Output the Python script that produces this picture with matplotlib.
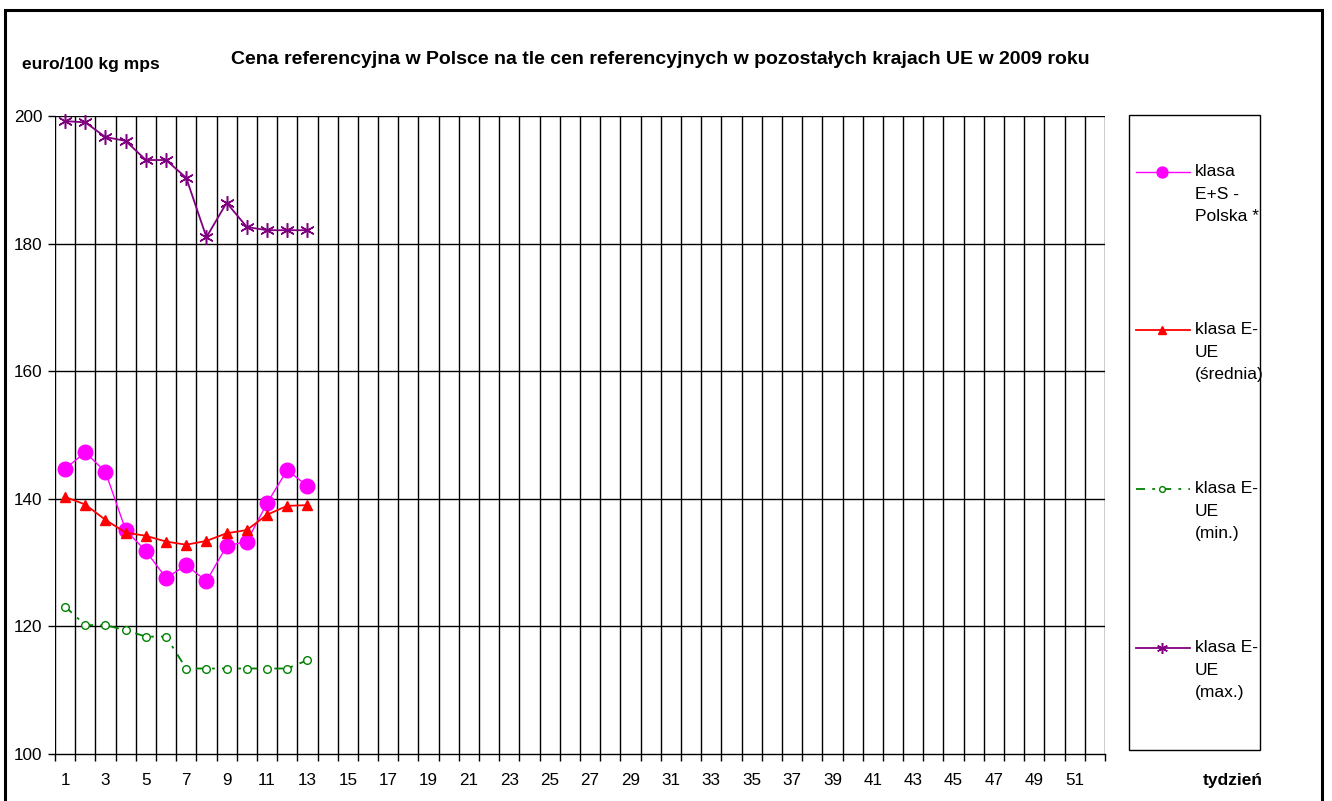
import matplotlib.pyplot as plt
from matplotlib.lines import Line2D
from matplotlib.patches import Rectangle

plt.rcParams['font.family'] = ['Liberation Sans', 'DejaVu Sans']

# weeks with data
weeks = list(range(1, 14))
polska = [144.7, 147.3, 144.2, 135.1, 131.8, 127.6, 129.6, 127.1, 132.6, 133.3, 139.3, 144.5, 142.0]
ue_avg = [140.3, 139.1, 136.7, 134.7, 134.2, 133.3, 132.8, 133.4, 134.6, 135.1, 137.5, 138.9, 139.0]
ue_min = [123.1, 120.2, 120.2, 119.4, 118.4, 118.4, 113.4, 113.4, 113.4, 113.4, 113.4, 113.4, 114.7]
ue_max = [199.2, 199.0, 196.7, 196.1, 193.1, 193.1, 190.3, 181.0, 186.4, 182.6, 182.1, 182.1, 182.1]

labels = ["klasa\nE+S -\nPolska *", "klasa E-\nUE\n(średnia)", "klasa E-\nUE\n(min.)", "klasa E-\nUE\n(max.)"]
n_weeks = 52

fig = plt.figure(figsize=(13.32, 8.01), dpi=100)
ax = fig.add_axes([55 / 1332, 1 - 754 / 801, 1050 / 1332, 638 / 801])

# outer frame
fig.patches.append(Rectangle((5 / 1332, -0.01), 1317 / 1332, 1 - 10 / 801 + 0.01,
                             transform=fig.transFigure, fill=False, lw=2.2, ec='black'))

styles = [
    dict(color='#FF00FF', marker='o', ms=10.5, lw=1.0, ls='-', mfc='#FF00FF', mec='#FF00FF'),
    dict(color='#FF0000', marker='^', ms=7, lw=1.3, ls='-', mfc='#FF0000', mec='#FF0000'),
    dict(color='#008000', marker='o', ms=5.5, lw=1.3, ls=(0, (5, 4, 1.5, 4)), mfc='white', mec='#008000', mew=1.0),
    dict(color='#800080', marker=(6, 2, 0), ms=10.5, lw=1.3, ls='-', mec='#800080', mew=1.1),
]
series = [polska, ue_avg, ue_min, ue_max]
for vals, st in zip(series, styles):
    ax.plot(weeks, vals, zorder=3, clip_on=False, **st)

ax.set_xlim(0.5, n_weeks + 0.5)
ax.set_ylim(100, 200)
ax.set_yticks([100, 120, 140, 160, 180, 200])
for y in [120, 140, 160, 180, 200]:
    ax.axhline(y, color='black', lw=1.0, zorder=1)
for k in range(n_weeks + 1):
    ax.axvline(k + 0.5, color='black', lw=1.0, zorder=1)

ax.set_xticks([k + 0.5 for k in range(n_weeks + 1)])
ax.set_xticklabels([])
ax.set_xticks(list(range(1, n_weeks + 1, 2)), minor=True)
ax.set_xticklabels([str(w) for w in range(1, n_weeks + 1, 2)], minor=True)
ax.tick_params(axis='x', which='major', direction='out', length=5, width=1)
ax.tick_params(axis='x', which='minor', length=0, pad=14, labelsize=12.3)
ax.tick_params(axis='y', direction='out', length=5, width=1, labelsize=12.3, pad=4)

for s in ['top', 'right']:
    ax.spines[s].set_visible(False)
ax.spines['left'].set_visible(False)
ax.spines['bottom'].set_linewidth(1.0)

fig.text(660 / 1332, 1 - 60 / 801, "Cena referencyjna w Polsce na tle cen referencyjnych w pozostałych krajach UE w 2009 roku",
         ha='center', va='center', fontsize=14, fontweight='bold')
fig.text(22 / 1332, 1 - 64 / 801, "euro/100 kg mps", ha='left', va='center', fontsize=12.5, fontweight='bold')
fig.text(1203 / 1332, 1 - 781 / 801, "tydzień", ha='left', va='center', fontsize=12.5, fontweight='bold')

# legend box
fig.patches.append(Rectangle((1129 / 1332, 1 - 750 / 801), 131 / 1332, 635 / 801,
                             transform=fig.transFigure, fill=False, lw=1.0, ec='black'))
handle_y = [172, 330, 489, 648]
for lab, st, hy in zip(labels, styles, handle_y):
    yf = 1 - hy / 801
    fig.lines.append(Line2D([1136 / 1332, 1190 / 1332], [yf, yf], transform=fig.transFigure,
                            color=st['color'], lw=st['lw'], ls=st['ls']))
    mk = {k: v for k, v in st.items() if k in ('marker', 'mfc', 'mec', 'mew')}
    mk['ms'] = st['ms'] * 0.75
    fig.lines.append(Line2D([1162 / 1332], [yf], transform=fig.transFigure, ls='none', **mk))
    fig.text(1195 / 1332, yf + 8 / 801, lab, ha='left', va='top', fontsize=12.5, linespacing=1.63)

fig.savefig("out.png", dpi=100)
